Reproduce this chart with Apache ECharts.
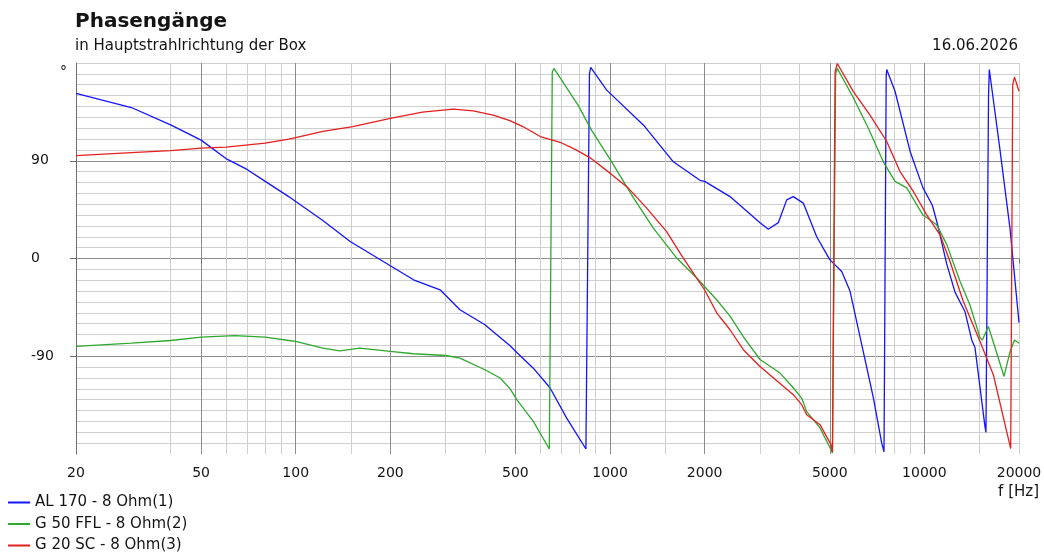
<!DOCTYPE html>
<html>
<head>
<meta charset="utf-8">
<script src="https://cdn.jsdelivr.net/npm/echarts@6/dist/echarts.min.js"></script>
<style>
  html, body { margin: 0; padding: 0; background: #ffffff; }
  #chart { width: 1044px; height: 553px; }
</style>
</head>
<body>
<div id="chart"></div>
<script>
// Texts
const titleText = 'Phasengänge';
const subtitleText = 'in Hauptstrahlrichtung der Box';
const dateText = '16.06.2026';
const xUnit = 'f [Hz]';
const yUnit = '°';
const seriesNames = ['AL 170 - 8 Ohm(1)', 'G 50 FFL - 8 Ohm(2)', 'G 20 SC - 8 Ohm(3)'];
const seriesColors = ['#1414ff', '#2ea82e', '#e61e1e'];

// Frequency axis (Hz): labelled/major lines and light minor lines
const freqMajor = [20, 50, 100, 200, 500, 1000, 2000, 5000, 10000, 20000];
const freqMinor = [30, 40, 60, 70, 80, 90, 150, 300, 400, 600, 700, 800, 900,
                   1500, 3000, 4000, 6000, 7000, 8000, 9000, 15000, 20000];
const freqMin = 20;
const freqMax = 20000;

// Phase axis (degrees)
const phaseMin = -180;
const phaseMax = 180;
const phaseMinorStep = 10;
const phaseMajor = [-90, 0, 90];

// AL 170 - 8 Ohm(1)
const freqAL = [20, 30, 40, 50, 60, 70, 80, 95, 100, 122, 149, 200, 237, 288, 333, 400, 447, 481, 505, 570, 644, 728, 838,
                860, 868, 976, 1276, 1590, 1932, 2000, 2408, 3000, 3188, 3430, 3648, 3828, 4120, 4544, 5000, 5458, 5800, 6394, 6880, 7316, 7440,
                7560, 7590, 8066, 9020, 9900, 10600, 11000, 11776, 12516, 13466, 14144, 14488, 15592, 15700,
                16000, 16090, 17400, 18720, 20000];
const phaseAL = [152, 139, 123, 109, 92, 82, 71, 57, 52.5, 35, 15.6, -6.7, -19.6, -28.8, -47.2, -61, -72.7, -80.3, -86.5, -101, -119, -147, -175.4,
                 170, 176, 155, 123, 89, 72, 71, 57, 33, 27, 33, 54, 57, 51, 20, -1, -12, -30, -86, -128, -170, -178,
                 168, 174, 154, 98, 65, 49, 32, -5, -31, -49, -75, -82, -155, -160,
                 150, 174, 100, 28, -59];

// G 50 FFL - 8 Ohm(2)
const freqFFL = [20, 30, 40, 50, 64, 80, 95, 100, 122, 138, 160, 200, 237, 300, 333, 400, 447, 481, 505, 570, 641,
                 655, 663, 792, 874, 1012, 1186, 1373, 1630, 1932, 2000, 2184, 2408, 2654, 3000, 3474, 3828, 4070, 4224, 4656, 5045, 5100,
                 5220, 5284, 5944, 6634, 7402, 8066, 8788, 9900, 10944, 11776, 12982, 13970, 15032, 15300, 15976, 16778, 17922, 18720, 19350, 20000];
const phaseFFL = [-81, -78, -75.5, -72.3, -71, -72.3, -75.5, -76.4, -82.5, -85, -82.5, -85.6, -87.7, -89.3, -91.7, -102.4, -110, -120, -130, -150, -175.4,
                  172, 175, 141, 118, 89, 56, 28, 0.4, -21, -26, -38, -53, -72, -93, -105.5, -119, -128.5, -141, -156, -176, -179,
                  170, 175, 148, 120, 89, 71, 65, 40, 31, 13, -21, -43, -73, -75, -62.6, -82, -108.6, -86, -75, -78];

// G 20 SC - 8 Ohm(3)
const freqSC = [20, 30, 40, 50, 60, 80, 95, 100, 122, 152, 200, 253, 317, 367, 425, 480, 528, 600, 694, 780, 868, 1000, 1143, 1308, 1514, 1698,
                2000, 2184, 2408, 2654, 3000, 3474, 3828, 4070, 4224, 4656, 5045, 5100,
                5200, 5284, 5944, 6714, 7590, 8364, 9224, 10172, 11216, 12066, 13300, 15032, 16572, 18820,
                19100, 19350, 20000];
const phaseSC = [94.8, 97.5, 99.4, 101.6, 102.5, 106.2, 110, 111.3, 117, 121.5, 129, 134.7, 137.5, 136, 132, 127, 121.5, 112.3, 107, 100, 92.4, 78.6, 64.8, 46.4, 24.8, 1.8,
                 -29, -50, -65.6, -84, -99.4, -115, -125.4, -134.6, -143.8, -153, -171.4, -178,
                 172, 179.5, 153.7, 132, 107.7, 80, 61.7, 40.2, 21.8, -2.8, -39.6, -76.4, -107, -175,
                 160, 167, 154];

const lg = Math.log10;
const toPoints = (freqs, phases) => freqs.map((f, i) => [lg(f), phases[i]]);
const curves = [toPoints(freqAL, phaseAL), toPoints(freqFFL, phaseFFL), toPoints(freqSC, phaseSC)];

const FONT = 'DejaVu Sans';
const TEXT = '#141414';
const GRID_LIGHT = '#cfcfcf';
const GRID_DARK = '#8c8c8c';
const AXIS_DARK = '#6e6e6e';

const chart = echarts.init(document.getElementById('chart'), null, { renderer: 'canvas' });

const xBase = {
  type: 'value',
  position: 'bottom',
  min: lg(freqMin),
  max: lg(freqMax),
  axisLine: { show: false }
};
const yBase = {
  type: 'value',
  position: 'left',
  min: phaseMin,
  max: phaseMax
};

chart.setOption({
  animation: false,
  backgroundColor: '#ffffff',
  textStyle: { fontFamily: FONT },
  title: [
    { text: titleText, left: 75, top: 12, padding: 0,
      textStyle: { fontFamily: FONT, fontSize: 20, fontWeight: 'bold', color: TEXT } },
    { text: subtitleText, left: 75, top: 39, padding: 0,
      textStyle: { fontFamily: FONT, fontSize: 15, fontWeight: 'normal', color: TEXT } },
    { text: dateText, right: 26, top: 39, padding: 0,
      textStyle: { fontFamily: FONT, fontSize: 15, fontWeight: 'normal', color: TEXT } },
    { text: xUnit, right: 5, top: 485, padding: 0,
      textStyle: { fontFamily: FONT, fontSize: 15, fontWeight: 'normal', color: TEXT } }
  ],
  legend: {
    orient: 'vertical',
    left: 8,
    top: 495,
    padding: 0,
    icon: 'rect',
    itemWidth: 22,
    itemHeight: 2,
    itemGap: 6.5,
    data: seriesNames,
    textStyle: { fontFamily: FONT, fontSize: 15, color: TEXT }
  },
  grid: {
    left: 76,
    right: 25,
    top: 63,
    bottom: 99,
    containLabel: false,
    outerBoundsMode: 'none'
  },
  xAxis: [
    Object.assign({}, xBase, {
      axisTick: { show: false, customValues: freqMinor.map(lg) },
      axisLabel: { show: false },
      splitLine: { show: true, showMinLine: false, lineStyle: { color: GRID_LIGHT, width: 1 } }
    }),
    Object.assign({}, xBase, {
      axisTick: { show: true, length: 5, inside: false, customValues: freqMajor.map(lg),
                  lineStyle: { color: AXIS_DARK, width: 1 } },
      axisLabel: {
        show: true,
        customValues: freqMajor.map(lg),
        margin: 12,
        fontFamily: FONT,
        fontSize: 14,
        color: TEXT,
        formatter: v => String(Math.round(Math.pow(10, v)))
      },
      splitLine: { show: true, showMinLine: false, showMaxLine: false,
                   lineStyle: { color: GRID_DARK, width: 1 } }
    })
  ],
  yAxis: [
    Object.assign({}, yBase, {
      interval: phaseMinorStep,
      axisLine: { show: false },
      axisTick: { show: false },
      axisLabel: { show: false },
      splitLine: { show: true, showMinLine: false, lineStyle: { color: GRID_LIGHT, width: 1 } }
    }),
    Object.assign({}, yBase, {
      name: yUnit,
      nameLocation: 'end',
      nameGap: -9,
      nameTextStyle: { fontFamily: FONT, fontSize: 14, color: TEXT,
                       align: 'right', verticalAlign: 'middle', padding: [0, 9, 0, 0] },
      axisLine: { show: true, lineStyle: { color: AXIS_DARK, width: 1 } },
      axisTick: { show: true, length: 6, inside: false, customValues: phaseMajor,
                  lineStyle: { color: AXIS_DARK, width: 1 } },
      axisLabel: {
        show: true,
        customValues: phaseMajor,
        align: 'left',
        margin: 45,
        fontFamily: FONT,
        fontSize: 14,
        color: TEXT
      },
      splitLine: { show: true, lineStyle: { color: GRID_DARK, width: 1 } }
    })
  ],
  series: seriesNames.map((name, i) => ({
    name: name,
    type: 'line',
    xAxisIndex: 0,
    yAxisIndex: 0,
    symbol: 'none',
    smooth: false,
    clip: true,
    color: seriesColors[i],
    lineStyle: { color: seriesColors[i], width: 1.3 },
    data: curves[i],
    z: 3 + i
  }))
});
</script>
</body>
</html>
